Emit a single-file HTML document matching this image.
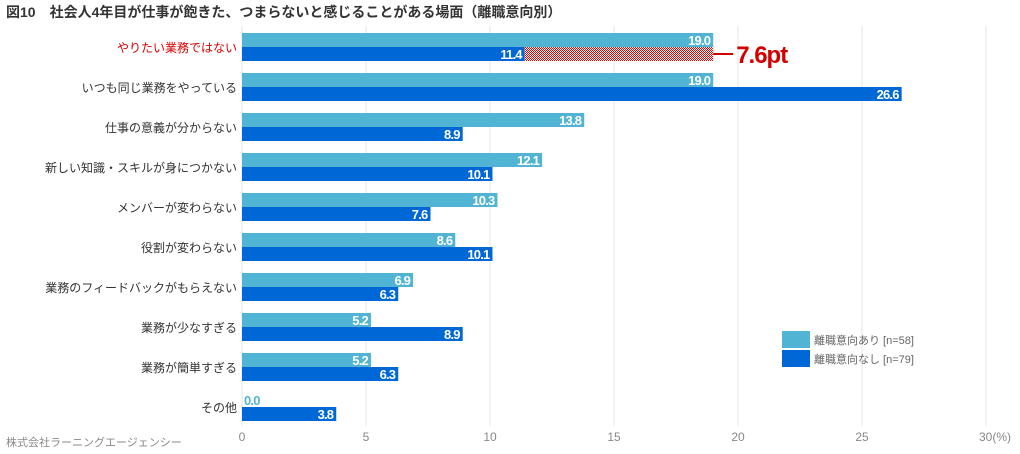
<!DOCTYPE html>
<html><head><meta charset="utf-8"><style>
body{margin:0;background:#fff;}
svg{display:block;font-family:"Liberation Sans","Noto Sans CJK JP",sans-serif;}
.v{font-family:"Liberation Sans Narrow","Liberation Sans",sans-serif;font-weight:bold;font-size:13px;letter-spacing:-0.8px;}
</style></head><body>
<svg id="chart" width="1020" height="454" viewBox="0 0 1020 454">
<defs><pattern id="chk" width="2" height="2" patternUnits="userSpaceOnUse"><rect width="2" height="2" fill="#fff"/><rect width="1" height="1" fill="#e00"/><rect x="1" y="1" width="1" height="1" fill="#e00"/></pattern></defs>
<text x="6" y="17" font-size="14" font-weight="bold" fill="#333">図10　社会人4年目が仕事が飽きた、つまらないと感じることがある場面（離職意向別）</text>
<g id="grid"></g><g id="bars"></g>
<text x="6" y="446" font-size="11" fill="#888">株式会社ラーニングエージェンシー</text>
<g>
<rect x="782" y="331" width="28" height="17" fill="#52b4d4"/>
<text x="814" y="344" font-size="11" fill="#666">離職意向あり [n=58]</text>
<rect x="782" y="350" width="28" height="17" fill="#0068d6"/>
<text x="814" y="363" font-size="11" fill="#666">離職意向なし [n=79]</text>
</g>
</svg>
<script>
const categories=["やりたい業務ではない","いつも同じ業務をやっている","仕事の意義が分からない","新しい知識・スキルが身につかない","メンバーが変わらない","役割が変わらない","業務のフィードバックがもらえない","業務が少なすぎる","業務が簡単すぎる","その他"];
const seriesYes=[19.0,19.0,13.8,12.1,10.3,8.6,6.9,5.2,5.2,0.0];
const seriesNo=[11.4,26.6,8.9,10.1,7.6,10.1,6.3,8.9,6.3,3.8];
const ticks=[0,5,10,15,20,25,30];
const NS="http://www.w3.org/2000/svg";
const x=v=>242+v*24.8;
const rowY=i=>33+i*40;
function mk(p,t,a,txt){const e=document.createElementNS(NS,t);for(const k in a)e.setAttribute(k,a[k]);if(txt!==undefined)e.textContent=txt;p.appendChild(e);return e;}
const g=document.getElementById('grid'),b=document.getElementById('bars');
ticks.forEach(t=>{
 const l=mk(g,'line',{x1:x(t),x2:x(t),y1:26,y2:426,stroke:'#e4e4e4','stroke-width':1});
 
 
 const tx=mk(g,'text',{x:x(t),y:441,'font-size':12,fill:'#888','text-anchor':t===30?'start':'middle'},t===30?'30(%)':String(t));
 if(t===30)tx.setAttribute('x',x(t)-7);
 
 
});
categories.forEach((c,i)=>{
 const y=rowY(i);
 const lab=mk(b,'text',{x:237,y:y+19,'font-size':12,fill:i===0?'#d40000':'#333','text-anchor':'end'},c);
 
 
 const r1=mk(b,'rect',{x:x(0),y:y,width:x(seriesYes[i])-x(0),height:14,fill:'#52b4d4'});
 
 
 const r2=mk(b,'rect',{x:x(0),y:y+14,width:x(seriesNo[i])-x(0),height:14,fill:'#0068d6'});
 
 
 const v1=seriesYes[i];
 const t1=v1>0?mk(b,'text',{x:x(v1)-3,y:y+12,fill:'#fff','text-anchor':'end',class:'v'},v1.toFixed(1)):mk(b,'text',{x:x(0)+2,y:y+12,fill:'#52b4d4',class:'v'},v1.toFixed(1));
 
 
 const t2=mk(b,'text',{x:x(seriesNo[i])-3,y:y+26,fill:'#fff','text-anchor':'end',class:'v'},seriesNo[i].toFixed(1));
 
 
});
const d=seriesYes[0]-seriesNo[0],y0=rowY(0);
const dr=mk(b,'rect',{x:x(seriesNo[0]),y:y0+14,width:x(seriesYes[0])-x(seriesNo[0]),height:14,fill:'url(#chk)'});


const dl=mk(b,'line',{x1:x(seriesYes[0]),x2:x(seriesYes[0])+20,y1:y0+21,y2:y0+21,stroke:'#d40000','stroke-width':2});


const dt=mk(b,'text',{x:x(seriesYes[0])+23,y:y0+30,'font-size':24,'font-weight':'bold',fill:'#d40000','letter-spacing':'-1',style:'font-family:"Liberation Sans Narrow","Liberation Sans",sans-serif'},d.toFixed(1)+'pt');


</script>
</body></html>
